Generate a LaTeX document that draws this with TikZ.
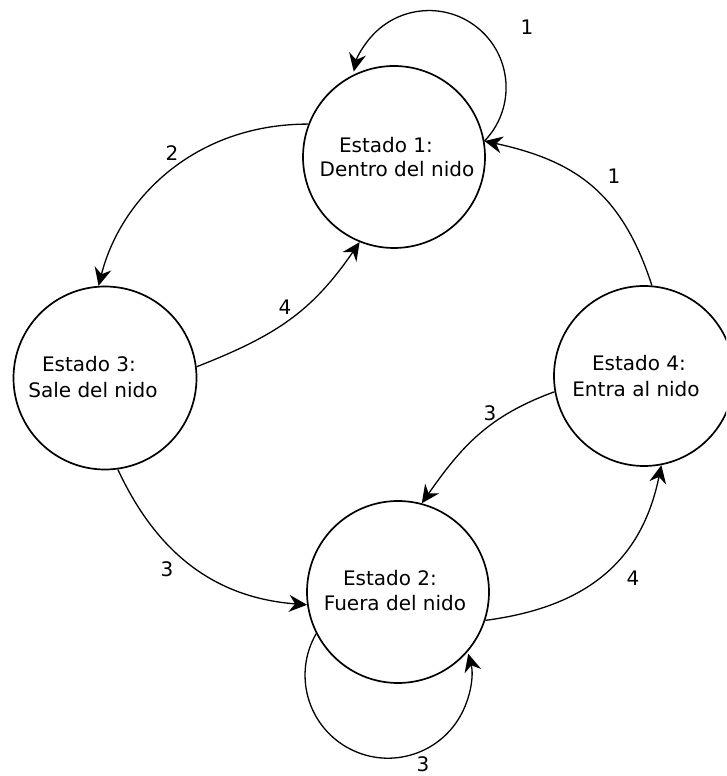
\documentclass[tikz,border=0pt]{standalone}
\usepackage{fontspec}
\setmainfont{DejaVu Sans}
\usetikzlibrary{arrows.meta}
\begin{document}
\begin{tikzpicture}[x=1pt,y=1pt,
  state/.style={circle,draw=black,line width=1.7pt,inner sep=0pt,fill=none},
  txt/.style={anchor=base,inner sep=0pt,font=\fontsize{20}{24}\selectfont},
  lbl/.style={inner sep=0pt,font=\fontsize{20}{24}\selectfont},
  edge/.style={draw=black,line width=1.3pt,-{Stealth[length=18pt,width=17pt,inset=6pt]}}]
\useasboundingbox (0,0) rectangle (726,776);
\clip (0,0) rectangle (726,776);
\fill[white] (0,0) rectangle (726,776);
% states
\node[state,minimum size=182pt] (s1) at (394,619) {};
\node[state,minimum size=183pt] (s3) at (105,398) {};
\node[state,minimum size=180pt] (s4) at (644,400) {};
\node[state,minimum size=182pt] (s2) at (398,184) {};
% state texts
\node[txt] (t1a) at (386,623) {Estado 1:};
\node[txt] (t1b) at (397,599) {Dentro del nido};
\node[txt] (t3a) at (89,404) {Estado 3:};
\node[txt] (t3b) at (93,378) {Sale del nido};
\node[txt] (t4a) at (639,405) {Estado 4:};
\node[txt] (t4b) at (636,379) {Entra al nido};
\node[txt] (t2a) at (390,190) {Estado 2:};
\node[txt] (t2b) at (395,165) {Fuera del nido};
% edges
\draw[edge] (s1.10) arc[start angle=-44, end angle=168, radius=77];
\draw[edge] (s1.159) .. controls +(-114,0) and +(22,87) .. (s3.94);
\draw[edge] (s3.7) .. controls +(79,31) and +(-48,-70) .. (s1.248);
\draw[edge] (s4.85) .. controls +(-30,92) and +(92,-20) .. (s1.10);
\draw[edge] (s4.190) .. controls +(-66,-24) and +(40,57) .. (s2.75);
\draw[edge] (s2.342) .. controls +(99,13) and +(-20,-98) .. (s4.281);
\draw[edge] (s3.278) .. controls +(39,-84) and +(-92,7) .. (s2.188);
\draw[edge] (s2.207) arc[start angle=150, end angle=375, radius=83];
% edge labels
\node[lbl] (l1) at (527,749) {1};
\node[lbl] (l2) at (172,623) {2};
\node[lbl] (l3) at (285,469) {4};
\node[lbl] (l4) at (614,600) {1};
\node[lbl] (l5) at (490,363) {3};
\node[lbl] (l6) at (633,198) {4};
\node[lbl] (l7) at (167,207) {3};
\node[lbl] (l8) at (423,12) {3};
\end{tikzpicture}
\end{document}
